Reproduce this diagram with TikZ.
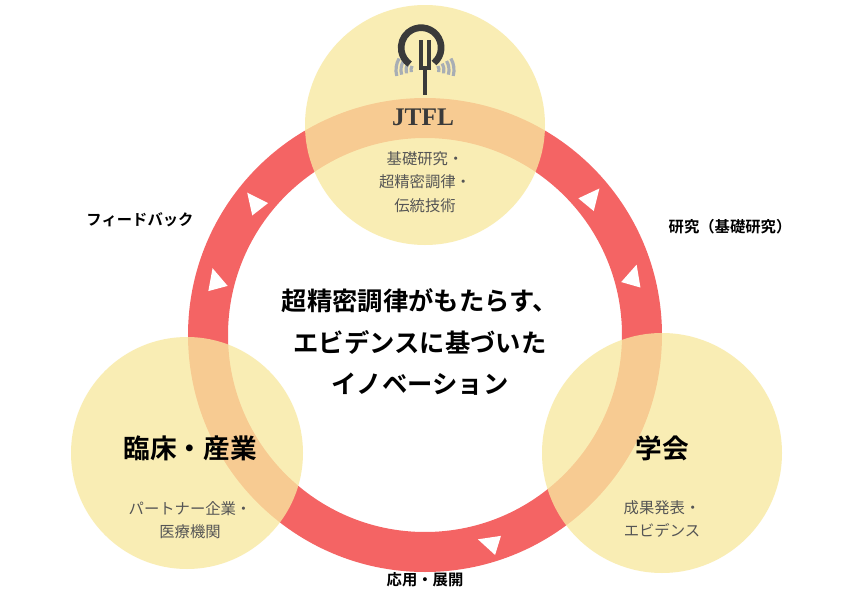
\documentclass[tikz,border=0pt]{standalone}
\usepackage{fontspec}
\newfontfamily\cjk{Noto Sans CJK JP}[BoldFont={Noto Sans CJK JP Bold}]
\definecolor{ringc}{HTML}{F46464}
\definecolor{circc}{HTML}{F8E9A0}
\definecolor{txtg}{HTML}{555555}
\definecolor{logoc}{HTML}{3A3A3A}
\definecolor{wingc}{HTML}{A8AEB4}
\tikzset{
  bubble/.style={circle,fill=circc,fill opacity=0.78,draw=none},
  sub/.style={text=txtg,align=center},
  head/.style={font=\cjk\bfseries\fontsize{20}{22}\selectfont,text=black},
  lab/.style={font=\cjk\bfseries\fontsize{11.5}{13}\selectfont,text=black},
  center/.style={font=\cjk\bfseries\fontsize{19}{31}\selectfont,align=center,text=black},
  tri/.style={fill=white}
}
\begin{document}
\begin{tikzpicture}[x=0.75pt,y=-0.75pt]
\useasboundingbox[fill=white] (0,0) rectangle (844,596);
\coordinate (c) at (425,335);
\draw[ringc,line width=30pt] (c) circle (217);
\begin{scope}[shift={(425,335)},yscale=-1]
 \foreach \a in {142,165} {\fill[tri,shift={(\a:217)},rotate=\a+90] (11,0)--(-10,10)--(-10,-10)--cycle;}
 \foreach \a in {39.5,16,-73} {\fill[tri,shift={(\a:217)},rotate=\a-90] (11,0)--(-10,10)--(-10,-10)--cycle;}
\end{scope}
\node[bubble,minimum size=240*0.75pt] (top) at (425,125) {};
\node[bubble,minimum size=232*0.75pt] (left) at (187,453) {};
\node[bubble,minimum size=240*0.75pt] (right) at (662,453) {};
% logo
\begin{scope}[shift={(425,50)},yscale=-1]
 \foreach \r in {8,13,18,23}{
  \draw[wingc,line width=2.4pt] (-6,-20) ++(195:\r) arc (195:150:\r);
  \draw[wingc,line width=2.4pt] (6,-20) ++(-15:\r) arc (-15:30:\r);
 }
 \draw[logoc,line width=5pt] (9,-13) arc (-50:235:20);
 \draw[logoc,line width=3.5pt] (-4,10) -- (-4,-18) -- (4,-18) -- (4,10);
 \draw[logoc,line width=3.5pt] (0,-18) -- (0,-45);
\end{scope}
\node[font=\fontspec{Liberation Serif}\bfseries\fontsize{19}{20}\selectfont,text=logoc] (jtfl) at (423,117) {JTFL};
\node[sub,font=\cjk\fontsize{11.5}{17.5}\selectfont] (ts) at (425,182) {基礎研究・\\超精密調律・\\伝統技術};
\node[head] (lh) at (190,448) {臨床・産業};
\node[sub,font=\cjk\fontsize{11.5}{17.5}\selectfont] (ls) at (190,520) {パートナー企業・\\医療機関};
\node[head] (rh) at (662,448) {学会};
\node[sub,font=\cjk\fontsize{11.5}{17}\selectfont] (rs) at (662,519) {成果発表・\\エビデンス};
\node[lab] (fb) at (140,220) {フィードバック};
\node[lab] (rl) at (730,227) {研究（基礎研究）};
\node[lab] (bl) at (425,580) {応用・展開};
\node[center] (ct) at (420,342) {超精密調律がもたらす、\\エビデンスに基づいた\\イノベーション};
\end{tikzpicture}
\end{document}
